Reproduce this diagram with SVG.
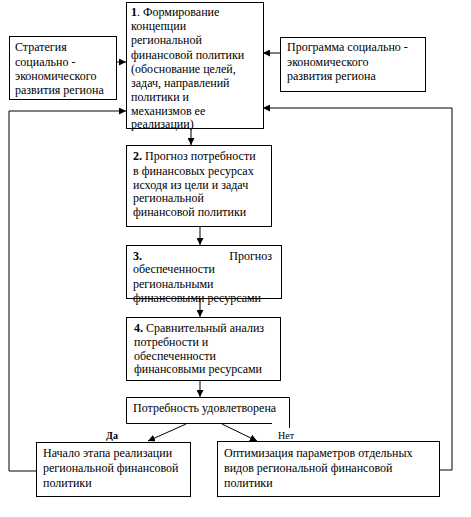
<svg xmlns="http://www.w3.org/2000/svg" width="471" height="517" viewBox="0 0 471 517">
<defs>
<marker id="ah" markerWidth="8" markerHeight="7" refX="7" refY="3.5" orient="auto" markerUnits="userSpaceOnUse">
<path d="M0,0 L7,3.5 L0,7 Z" fill="#000"/>
</marker>
<style>
.box{fill:#fff;stroke:#000;stroke-width:1}
text{font-family:'Liberation Serif','DejaVu Serif','Times New Roman',serif;fill:#000}
.t{font-size:12px}
.s{font-size:10px}
.b{font-weight:bold}
.c{fill:none;stroke:#000;stroke-width:1}
</style>
</defs>
<rect width="471" height="517" fill="#fff"/>
<g id="connectors">
<line class="c" x1="117" y1="62" x2="126" y2="62" marker-end="url(#ah)"/>
<line class="c" x1="280" y1="53" x2="263" y2="53" marker-end="url(#ah)"/>
<polyline class="c" points="36,471 9,471 9,111 126,111" marker-end="url(#ah)"/>
<polyline class="c" points="439,470 452,470 452,108 263,108" marker-end="url(#ah)"/>
<line class="c" x1="191" y1="128" x2="191" y2="145" marker-end="url(#ah)"/>
<line class="c" x1="200" y1="227" x2="200" y2="245" marker-end="url(#ah)"/>
<line class="c" x1="200" y1="292" x2="200" y2="317" marker-end="url(#ah)"/>
<line class="c" x1="200" y1="380" x2="200" y2="397" marker-end="url(#ah)"/>
<line class="c" x1="186" y1="424" x2="148" y2="441" marker-end="url(#ah)"/>
<line class="c" x1="222" y1="424" x2="257" y2="441" marker-end="url(#ah)"/>
<text class="s b" x="106" y="439">Да</text>
<text class="s" x="278" y="439">Нет</text>
</g>
<g id="node-strategy">
<rect class="box" x="9.5" y="36.5" width="107" height="63"/>
<text class="t" x="15" y="51">Стратегия</text>
<text class="t" x="15" y="66">социально -</text>
<text class="t" x="15" y="80">экономического</text>
<text class="t" x="15" y="94">развития региона</text>
</g>
<g id="node-program">
<rect class="box" x="280.5" y="37.5" width="145" height="54"/>
<text class="t" x="287" y="51">Программа социально -</text>
<text class="t" x="287" y="66">экономического</text>
<text class="t" x="287" y="80">развития региона</text>
</g>
<g id="node-1">
<rect class="box" x="126.5" y="2.5" width="137" height="126"/>
<text class="t" x="131" y="16"><tspan class="b">1</tspan>. Формирование</text>
<text class="t" x="131" y="30">концепции</text>
<text class="t" x="131" y="44">региональной</text>
<text class="t" x="131" y="59">финансовой политики</text>
<text class="t" x="131" y="73">(обоснование целей,</text>
<text class="t" x="131" y="87">задач, направлений</text>
<text class="t" x="131" y="101">политики и</text>
<text class="t" x="131" y="115">механизмов ее</text>
<text class="t" x="131" y="128">реализации)</text>
</g>
<g id="node-2">
<rect class="box" x="126.5" y="145.5" width="145" height="81"/>
<text class="t" x="133" y="160"><tspan class="b">2.</tspan> Прогноз потребности</text>
<text class="t" x="133" y="175">в финансовых ресурсах</text>
<text class="t" x="133" y="189">исходя из цели и задач</text>
<text class="t" x="133" y="202">региональной</text>
<text class="t" x="133" y="216">финансовой политики</text>
</g>
<g id="node-3">
<rect class="box" x="126.5" y="245.5" width="155" height="53"/>
<text class="t" x="133" y="260"><tspan class="b">3.</tspan></text>
<text class="t" x="272" y="260" text-anchor="end">Прогноз</text>
<text class="t" x="133" y="273">обеспеченности</text>
<text class="t" x="133" y="288">региональными</text>
<text class="t" x="133" y="302">финансовыми ресурсами</text>
</g>
<g id="node-4">
<rect class="box" x="126.5" y="317.5" width="154" height="63"/>
<text class="t" x="134" y="332"><tspan class="b">4.</tspan> Сравнительный анализ</text>
<text class="t" x="134" y="346">потребности и</text>
<text class="t" x="134" y="360">обеспеченности</text>
<text class="t" x="134" y="373">финансовыми ресурсами</text>
</g>
<g id="node-decision">
<polyline class="c" points="272,423.5 126.5,423.5 126.5,397.5 289.5,397.5 289.5,428"/>
<text class="t" x="133" y="412">Потребность удовлетворена</text>
</g>
<g id="node-yes">
<rect class="box" x="36.5" y="442.5" width="154" height="54"/>
<text class="t" x="43" y="457">Начало этапа реализации</text>
<text class="t" x="43" y="472">региональной финансовой</text>
<text class="t" x="43" y="487">политики</text>
</g>
<g id="node-no">
<rect class="box" x="217.5" y="441.5" width="222" height="55"/>
<text class="t" x="224" y="457">Оптимизация параметров отдельных</text>
<text class="t" x="224" y="472">видов региональной финансовой</text>
<text class="t" x="224" y="487">политики</text>
</g>
</svg>
